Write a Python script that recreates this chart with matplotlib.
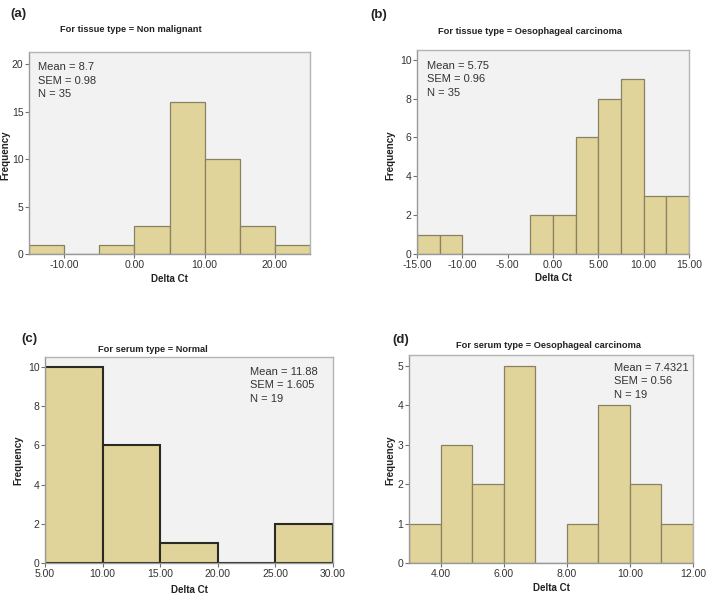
import matplotlib.pyplot as plt
import numpy as np

plt.rcParams['font.family'] = ['Liberation Sans', 'DejaVu Sans']

W, H = 707, 594

# bin edges + counts for each panel
edges_a = [-15, -10, -5, 0, 5, 10, 15, 20, 25]
counts_a = [1, 0, 1, 3, 16, 10, 3, 1]
edges_b = [-15, -12.5, -10, -7.5, -5, -2.5, 0, 2.5, 5, 7.5, 10, 12.5, 15]
counts_b = [1, 1, 0, 0, 0, 2, 2, 6, 8, 9, 3, 3]
edges_c = [5, 10, 15, 20, 25, 30]
counts_c = [10, 6, 1, 0, 2]
edges_d = [3, 4, 5, 6, 7, 8, 9, 10, 11, 12]
counts_d = [1, 3, 2, 5, 0, 1, 4, 2, 1]

xticks_a = [-10, 0, 10, 20]
xticks_b = [-15, -10, -5, 0, 5, 10, 15]
xticks_c = [5, 10, 15, 20, 25, 30]
xticks_d = [4, 6, 8, 10, 12]

yticks_a = [0, 5, 10, 15, 20]
yticks_b = [0, 2, 4, 6, 8, 10]
yticks_c = [0, 2, 4, 6, 8, 10]
yticks_d = [0, 1, 2, 3, 4, 5]

titles = ['For tissue type = Non malignant',
          'For tissue type = Oesophageal carcinoma',
          'For serum type = Normal',
          'For serum type = Oesophageal carcinoma']
stats = [['Mean = 8.7', 'SEM = 0.98', 'N = 35'],
         ['Mean = 5.75', 'SEM = 0.96', 'N = 35'],
         ['Mean = 11.88', 'SEM = 1.605', 'N = 19'],
         ['Mean = 7.4321', 'SEM = 0.56', 'N = 19']]
letters = ['(a)', '(b)', '(c)', '(d)']

fig = plt.figure(figsize=(W / 100, H / 100), dpi=100)
fig.patch.set_facecolor('white')


def px_axes(l, r, t, b):
    return fig.add_axes([l / W, 1 - b / H, (r - l) / W, (b - t) / H])


def fx(x):
    return x / W


def fy(y):
    return 1 - y / H


panels = [
    dict(box=(29, 310, 52, 254), edges=edges_a, counts=counts_a, xt=xticks_a, yt=yticks_a,
         ylim=21.3, letter=(10, 14), title=(131, 30), stat=(38, 67), ylab=(5, 155), xlab=279,
         edge='#8a8062', lw=0.9),
    dict(box=(417, 689, 50, 254), edges=edges_b, counts=counts_b, xt=xticks_b, yt=yticks_b,
         ylim=10.5, letter=(370, 15), title=(530, 31), stat=(427, 66), ylab=(390, 155), xlab=278,
         edge='#8a8062', lw=0.9),
    dict(box=(45, 333, 357, 563), edges=edges_c, counts=counts_c, xt=xticks_c, yt=yticks_c,
         ylim=10.5, letter=(21, 339), title=(153, 349), stat=(250, 372), ylab=(18, 460), xlab=590,
         edge='#2a2a22', lw=1.5),
    dict(box=(409, 693, 355, 563), edges=edges_d, counts=counts_d, xt=xticks_d, yt=yticks_d,
         ylim=5.28, letter=(392, 340), title=(548, 345), stat=(614, 368), ylab=(390, 460), xlab=588,
         edge='#8a8062', lw=0.9),
]

for i, p in enumerate(panels):
    ax = px_axes(*p['box'])
    ax.set_facecolor('#f2f2f2')
    e = np.array(p['edges'], dtype=float)
    ax.bar(e[:-1], p['counts'], width=np.diff(e), align='edge',
           color='#e0d49a', edgecolor=p['edge'], linewidth=p['lw'], zorder=2)
    ax.set_xlim(e[0], e[-1])
    ax.set_ylim(0, p['ylim'])
    ax.set_xticks(p['xt'])
    ax.set_xticklabels(['%.2f' % v for v in p['xt']])
    ax.set_yticks(p['yt'])
    for s in ['top', 'right']:
        ax.spines[s].set_color('#b4b4b4')
        ax.spines[s].set_linewidth(1.0)
    for s in ['left', 'bottom']:
        ax.spines[s].set_color('#9a9a9a')
        ax.spines[s].set_linewidth(1.0)
    ax.tick_params(axis='both', length=3, width=0.8, color='#707070',
                   labelsize=7.5, labelcolor='#333333', pad=1)
    ax.tick_params(axis='x', top=False)
    ax.tick_params(axis='y', right=False)

    l, r, t, b = p['box']
    fig.text(fx(p['letter'][0]), fy(p['letter'][1]), letters[i], fontsize=9.5,
             fontweight='bold', ha='left', va='center', color='#222222')
    fig.text(fx(p['title'][0]), fy(p['title'][1]), titles[i], fontsize=6.7,
             fontweight='bold', ha='center', va='center', color='#222222')
    for k, line in enumerate(stats[i]):
        fig.text(fx(p['stat'][0]), fy(p['stat'][1] + k * 13.5), line, fontsize=8,
                 ha='left', va='center', color='#333333')
    fig.text(fx(p['ylab'][0]), fy(p['ylab'][1]), 'Frequency', fontsize=7,
             fontweight='bold', rotation=90, ha='center', va='center', color='#222222')
    fig.text(fx((l + r) / 2), fy(p['xlab']), 'Delta Ct', fontsize=7,
             fontweight='bold', ha='center', va='center', color='#222222')

fig.savefig('out.png', dpi=100)
